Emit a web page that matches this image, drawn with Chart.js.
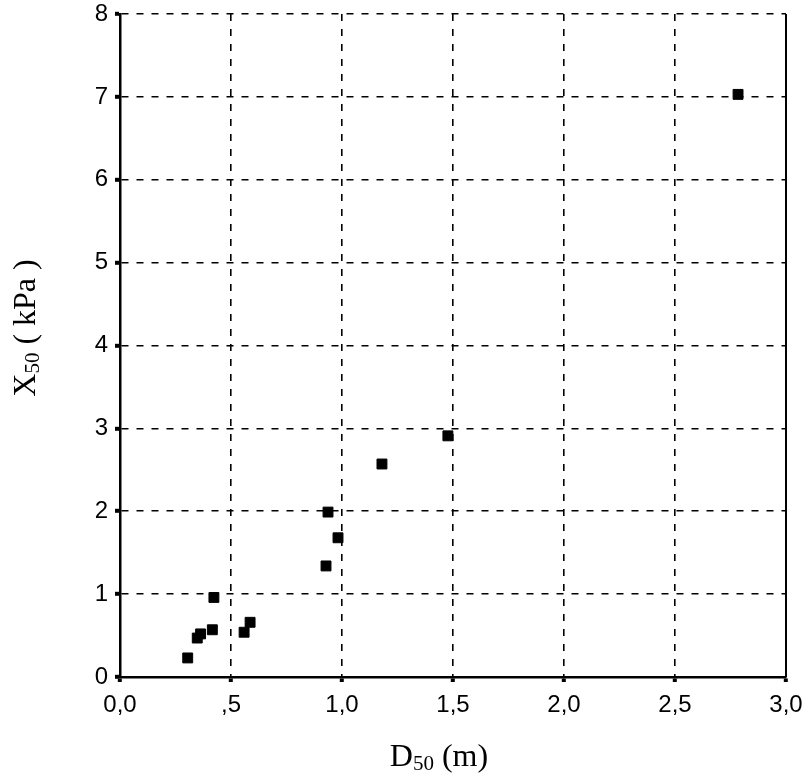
<!DOCTYPE html>
<html>
<head>
<meta charset="utf-8">
<script src="https://cdn.jsdelivr.net/npm/chart.js@4.4.1/dist/chart.umd.min.js"></script>
<style>
  html, body { margin: 0; padding: 0; background: #fff; }
  #wrap { width: 808px; height: 776px; }
</style>
</head>
<body>
<div id="wrap"><canvas id="scatter"></canvas></div>
<script>
// D50 (m) vs X50 (kPa)
const D50 = [0.305, 0.348, 0.363, 0.416, 0.423, 0.559, 0.586, 0.928, 0.937, 0.982, 1.180, 1.477, 2.784];
const X50 = [0.23, 0.47, 0.52, 0.57, 0.96, 0.54, 0.66, 1.34, 1.99, 1.68, 2.57, 2.91, 7.03];
const xTickLabels = ['0,0', ',5', '1,0', '1,5', '2,0', '2,5', '3,0'];
const yTickLabels = ['0', '1', '2', '3', '4', '5', '6', '7', '8'];

const points = D50.map((d, i) => ({ x: d, y: X50[i] }));

// solid frame on the right side + axis titles with subscripts
const framePlugin = {
  id: 'frame',
  afterDraw(chart) {
    const ctx = chart.ctx;
    const a = chart.chartArea;
    ctx.save();
    ctx.strokeStyle = '#000';
    ctx.lineWidth = 2;
    ctx.beginPath();
    ctx.moveTo(a.right, a.top);
    ctx.lineTo(a.right, a.bottom);
    ctx.stroke();

    function subText(parts) {
      // parts: [text, isSub]
      let w = 0;
      parts.forEach(p => {
        ctx.font = p[1] ? '21px "Liberation Serif"' : '32px "Liberation Serif"';
        w += ctx.measureText(p[0]).width;
      });
      let x = -w / 2;
      parts.forEach(p => {
        ctx.font = p[1] ? '21px "Liberation Serif"' : '32px "Liberation Serif"';
        ctx.fillText(p[0], x, p[1] ? 4 : 0);
        x += ctx.measureText(p[0]).width;
      });
    }
    ctx.fillStyle = '#000';
    ctx.textBaseline = 'alphabetic';
    ctx.textAlign = 'left';

    ctx.save();
    ctx.translate(439, 766);
    subText([['D', false], ['50', true], [' (m)', false]]);
    ctx.restore();

    ctx.save();
    ctx.translate(35, 328);
    ctx.rotate(-Math.PI / 2);
    subText([['X', false], ['50', true], [' ( kPa )', false]]);
    ctx.restore();

    ctx.restore();
  }
};

const ctx = document.getElementById('scatter').getContext('2d');
const chart = new Chart(ctx, {
  type: 'scatter',
  data: {
    datasets: [{
      data: points,
      backgroundColor: '#000',
      borderColor: '#000',
      pointStyle: 'rect',
      pointRadius: 7,
      pointHoverRadius: 7
    }]
  },
  options: {
    responsive: true,
    maintainAspectRatio: false,
    animation: false,
    layout: { padding: { left: 0, right: 22, top: 14, bottom: 0 } },
    plugins: {
      legend: { display: false },
      tooltip: { enabled: false }
    },
    scales: {
      x: {
        type: 'linear',
        min: 0,
        max: 3,
        afterFit: s => { s.height = 99; s.paddingLeft = 0; s.paddingRight = 0; },
        afterBuildTicks: s => {
          s.ticks = xTickLabels.map((t, i) => ({ value: i * 0.5 }));
        },
        ticks: {
          padding: 9,
          color: '#000',
          font: { family: '"Liberation Sans", Arial', size: 24 },
          callback: (v, i) => xTickLabels[i]
        },
        grid: {
          color: '#000',
          lineWidth: 1.6,
          tickLength: 5,
          tickWidth: 4,
          tickColor: '#000',
          tickBorderDash: []
        },
        border: { display: true, color: '#000', width: 2.5, dash: [7, 8] }
      },
      y: {
        min: 0,
        max: 8,
        afterFit: s => { s.width = 120; s.paddingTop = 0; s.paddingBottom = 0; },
        ticks: {
          stepSize: 1,
          padding: 7,
          color: '#000',
          font: { family: '"Liberation Sans", Arial', size: 24 },
          callback: (v, i) => yTickLabels[i]
        },
        grid: {
          color: '#000',
          lineWidth: 1.6,
          tickLength: 5,
          tickWidth: 4,
          tickColor: '#000',
          tickBorderDash: []
        },
        border: { display: true, color: '#000', width: 2.5, dash: [7, 8] }
      }
    }
  },
  plugins: [framePlugin]
});
</script>
</body>
</html>
